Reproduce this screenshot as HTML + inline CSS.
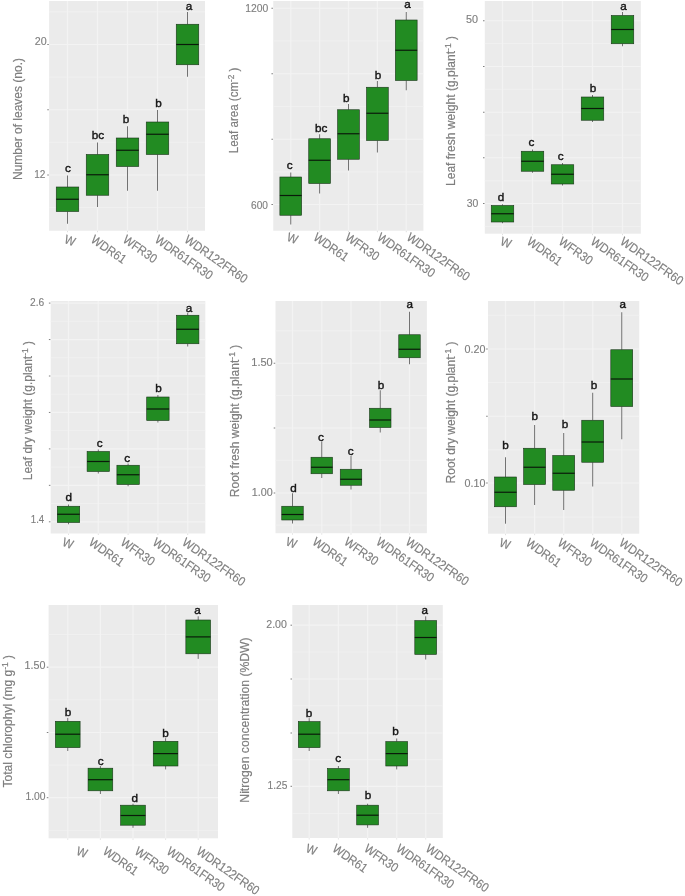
<!DOCTYPE html>
<html><head><meta charset="utf-8"><title>chart</title>
<style>
html,body{margin:0;padding:0;background:#fff;}
svg{display:block;transform:translateZ(0);will-change:transform;font-family:"Liberation Sans",sans-serif;}
.tk{fill:#7e7e7e;font-size:11.5px;stroke:#808080;stroke-width:0.15px;}
.xl{fill:#7e7e7e;font-size:12.6px;stroke:#808080;stroke-width:0.15px;}
.yt{fill:#7e7e7e;font-size:12px;stroke:#808080;stroke-width:0.2px;}
.lt{fill:#151515;font-size:11.7px;stroke:#151515;stroke-width:0.4px;}
</style></head><body>
<svg width="685" height="896" viewBox="0 0 685 896">
<rect x="0" y="0" width="685" height="896" fill="#ffffff"/>
<g>
<rect x="49.10" y="1.00" width="155.90" height="229.75" fill="#EBEBEB"/>
<line x1="49.10" x2="205.00" y1="11.88" y2="11.88" stroke="#f1f1f1" stroke-width="0.8"/>
<line x1="49.10" x2="205.00" y1="77.12" y2="77.12" stroke="#f1f1f1" stroke-width="0.8"/>
<line x1="49.10" x2="205.00" y1="142.38" y2="142.38" stroke="#f1f1f1" stroke-width="0.8"/>
<line x1="49.10" x2="205.00" y1="207.62" y2="207.62" stroke="#f1f1f1" stroke-width="0.8"/>
<line x1="49.10" x2="205.00" y1="44.50" y2="44.50" stroke="#f3f3f3" stroke-width="1.2"/>
<line x1="47.30" x2="48.80" y1="44.50" y2="44.50" stroke="#707070" stroke-width="0.9"/>
<line x1="49.10" x2="205.00" y1="109.75" y2="109.75" stroke="#f3f3f3" stroke-width="1.2"/>
<line x1="47.30" x2="48.80" y1="109.75" y2="109.75" stroke="#707070" stroke-width="0.9"/>
<line x1="49.10" x2="205.00" y1="175.00" y2="175.00" stroke="#f3f3f3" stroke-width="1.2"/>
<line x1="47.30" x2="48.80" y1="175.00" y2="175.00" stroke="#707070" stroke-width="0.9"/>
<line x1="67.50" x2="67.50" y1="1.00" y2="230.75" stroke="#f3f3f3" stroke-width="1.2"/>
<line x1="67.50" x2="67.50" y1="230.95" y2="232.25" stroke="#d4d4d4" stroke-width="0.7"/>
<line x1="97.50" x2="97.50" y1="1.00" y2="230.75" stroke="#f3f3f3" stroke-width="1.2"/>
<line x1="97.50" x2="97.50" y1="230.95" y2="232.25" stroke="#d4d4d4" stroke-width="0.7"/>
<line x1="127.50" x2="127.50" y1="1.00" y2="230.75" stroke="#f3f3f3" stroke-width="1.2"/>
<line x1="127.50" x2="127.50" y1="230.95" y2="232.25" stroke="#d4d4d4" stroke-width="0.7"/>
<line x1="157.50" x2="157.50" y1="1.00" y2="230.75" stroke="#f3f3f3" stroke-width="1.2"/>
<line x1="157.50" x2="157.50" y1="230.95" y2="232.25" stroke="#d4d4d4" stroke-width="0.7"/>
<line x1="187.50" x2="187.50" y1="1.00" y2="230.75" stroke="#f3f3f3" stroke-width="1.2"/>
<line x1="187.50" x2="187.50" y1="230.95" y2="232.25" stroke="#d4d4d4" stroke-width="0.7"/>
<line x1="67.50" x2="67.50" y1="175.50" y2="187.00" stroke="#3a3a3a" stroke-width="0.7"/>
<line x1="67.50" x2="67.50" y1="211.50" y2="223.75" stroke="#3a3a3a" stroke-width="0.7"/>
<rect x="56.25" y="187.00" width="22.50" height="24.50" fill="#228B22" stroke="#1a331a" stroke-width="0.6"/>
<line x1="56.25" x2="78.75" y1="199.25" y2="199.25" stroke="#0a1a0a" stroke-width="1.2"/>
<line x1="97.50" x2="97.50" y1="142.50" y2="154.50" stroke="#3a3a3a" stroke-width="0.7"/>
<line x1="97.50" x2="97.50" y1="195.25" y2="207.00" stroke="#3a3a3a" stroke-width="0.7"/>
<rect x="86.25" y="154.50" width="22.50" height="40.75" fill="#228B22" stroke="#1a331a" stroke-width="0.6"/>
<line x1="86.25" x2="108.75" y1="174.75" y2="174.75" stroke="#0a1a0a" stroke-width="1.2"/>
<line x1="127.50" x2="127.50" y1="126.25" y2="138.00" stroke="#3a3a3a" stroke-width="0.7"/>
<line x1="127.50" x2="127.50" y1="166.50" y2="190.75" stroke="#3a3a3a" stroke-width="0.7"/>
<rect x="116.25" y="138.00" width="22.50" height="28.50" fill="#228B22" stroke="#1a331a" stroke-width="0.6"/>
<line x1="116.25" x2="138.75" y1="150.25" y2="150.25" stroke="#0a1a0a" stroke-width="1.2"/>
<line x1="157.50" x2="157.50" y1="110.00" y2="122.00" stroke="#3a3a3a" stroke-width="0.7"/>
<line x1="157.50" x2="157.50" y1="154.50" y2="190.75" stroke="#3a3a3a" stroke-width="0.7"/>
<rect x="146.25" y="122.00" width="22.50" height="32.50" fill="#228B22" stroke="#1a331a" stroke-width="0.6"/>
<line x1="146.25" x2="168.75" y1="134.25" y2="134.25" stroke="#0a1a0a" stroke-width="1.2"/>
<line x1="187.50" x2="187.50" y1="12.00" y2="24.25" stroke="#3a3a3a" stroke-width="0.7"/>
<line x1="187.50" x2="187.50" y1="64.75" y2="76.75" stroke="#3a3a3a" stroke-width="0.7"/>
<rect x="176.25" y="24.25" width="22.50" height="40.50" fill="#228B22" stroke="#1a331a" stroke-width="0.6"/>
<line x1="176.25" x2="198.75" y1="44.50" y2="44.50" stroke="#0a1a0a" stroke-width="1.2"/>
<text class="lt" x="68.00" y="172.25" text-anchor="middle">c</text>
<text class="lt" x="98.00" y="138.75" text-anchor="middle">bc</text>
<text class="lt" x="126.00" y="123.25" text-anchor="middle">b</text>
<text class="lt" x="158.60" y="107.25" text-anchor="middle">b</text>
<text class="lt" x="189.10" y="10.35" text-anchor="middle">a</text>
<text class="tk" x="34.80" y="45.10" textLength="11.9" lengthAdjust="spacingAndGlyphs">20</text>
<text class="tk" x="34.20" y="177.80" textLength="11.2" lengthAdjust="spacingAndGlyphs">12</text>
<text class="xl" transform="translate(63.60,242.80) rotate(20) scale(0.9,1)" x="0" y="0">W</text>
<text class="xl" transform="translate(90.10,241.50) rotate(35.0) scale(0.9,1)" x="0" y="0">WDR61</text>
<text class="xl" transform="translate(121.90,241.50) rotate(35.0) scale(0.9,1)" x="0" y="0">WFR30</text>
<text class="xl" transform="translate(153.90,241.50) rotate(35.0) scale(0.9,1)" x="0" y="0">WDR61FR30</text>
<text class="xl" transform="translate(183.50,241.50) rotate(35.0) scale(0.9,1)" x="0" y="0">WDR122FR60</text>
<text class="yt" transform="translate(18.75,119.00) rotate(-90)" x="-61.00" y="3.6" textLength="122.0" lengthAdjust="spacingAndGlyphs">Number of leaves (no.)</text>
</g>
<g>
<rect x="273.25" y="1.00" width="150.15" height="229.75" fill="#EBEBEB"/>
<line x1="273.25" x2="423.40" y1="41.00" y2="41.00" stroke="#f1f1f1" stroke-width="0.8"/>
<line x1="273.25" x2="423.40" y1="106.50" y2="106.50" stroke="#f1f1f1" stroke-width="0.8"/>
<line x1="273.25" x2="423.40" y1="172.00" y2="172.00" stroke="#f1f1f1" stroke-width="0.8"/>
<line x1="273.25" x2="423.40" y1="8.25" y2="8.25" stroke="#f3f3f3" stroke-width="1.2"/>
<line x1="271.45" x2="272.95" y1="8.25" y2="8.25" stroke="#707070" stroke-width="0.9"/>
<line x1="273.25" x2="423.40" y1="73.75" y2="73.75" stroke="#f3f3f3" stroke-width="1.2"/>
<line x1="271.45" x2="272.95" y1="73.75" y2="73.75" stroke="#707070" stroke-width="0.9"/>
<line x1="273.25" x2="423.40" y1="139.25" y2="139.25" stroke="#f3f3f3" stroke-width="1.2"/>
<line x1="271.45" x2="272.95" y1="139.25" y2="139.25" stroke="#707070" stroke-width="0.9"/>
<line x1="273.25" x2="423.40" y1="204.50" y2="204.50" stroke="#f3f3f3" stroke-width="1.2"/>
<line x1="271.45" x2="272.95" y1="204.50" y2="204.50" stroke="#707070" stroke-width="0.9"/>
<line x1="290.75" x2="290.75" y1="1.00" y2="230.75" stroke="#f3f3f3" stroke-width="1.2"/>
<line x1="290.75" x2="290.75" y1="230.95" y2="232.25" stroke="#d4d4d4" stroke-width="0.7"/>
<line x1="319.60" x2="319.60" y1="1.00" y2="230.75" stroke="#f3f3f3" stroke-width="1.2"/>
<line x1="319.60" x2="319.60" y1="230.95" y2="232.25" stroke="#d4d4d4" stroke-width="0.7"/>
<line x1="348.50" x2="348.50" y1="1.00" y2="230.75" stroke="#f3f3f3" stroke-width="1.2"/>
<line x1="348.50" x2="348.50" y1="230.95" y2="232.25" stroke="#d4d4d4" stroke-width="0.7"/>
<line x1="377.40" x2="377.40" y1="1.00" y2="230.75" stroke="#f3f3f3" stroke-width="1.2"/>
<line x1="377.40" x2="377.40" y1="230.95" y2="232.25" stroke="#d4d4d4" stroke-width="0.7"/>
<line x1="406.25" x2="406.25" y1="1.00" y2="230.75" stroke="#f3f3f3" stroke-width="1.2"/>
<line x1="406.25" x2="406.25" y1="230.95" y2="232.25" stroke="#d4d4d4" stroke-width="0.7"/>
<line x1="290.75" x2="290.75" y1="172.50" y2="177.00" stroke="#3a3a3a" stroke-width="0.7"/>
<line x1="290.75" x2="290.75" y1="215.25" y2="224.50" stroke="#3a3a3a" stroke-width="0.7"/>
<rect x="279.88" y="177.00" width="21.75" height="38.25" fill="#228B22" stroke="#1a331a" stroke-width="0.6"/>
<line x1="279.88" x2="301.62" y1="195.50" y2="195.50" stroke="#0a1a0a" stroke-width="1.2"/>
<line x1="319.60" x2="319.60" y1="134.25" y2="138.75" stroke="#3a3a3a" stroke-width="0.7"/>
<line x1="319.60" x2="319.60" y1="183.50" y2="193.50" stroke="#3a3a3a" stroke-width="0.7"/>
<rect x="308.73" y="138.75" width="21.75" height="44.75" fill="#228B22" stroke="#1a331a" stroke-width="0.6"/>
<line x1="308.73" x2="330.48" y1="160.25" y2="160.25" stroke="#0a1a0a" stroke-width="1.2"/>
<line x1="348.50" x2="348.50" y1="104.00" y2="109.75" stroke="#3a3a3a" stroke-width="0.7"/>
<line x1="348.50" x2="348.50" y1="159.25" y2="170.50" stroke="#3a3a3a" stroke-width="0.7"/>
<rect x="337.62" y="109.75" width="21.75" height="49.50" fill="#228B22" stroke="#1a331a" stroke-width="0.6"/>
<line x1="337.62" x2="359.38" y1="133.75" y2="133.75" stroke="#0a1a0a" stroke-width="1.2"/>
<line x1="377.40" x2="377.40" y1="81.00" y2="87.25" stroke="#3a3a3a" stroke-width="0.7"/>
<line x1="377.40" x2="377.40" y1="140.50" y2="152.50" stroke="#3a3a3a" stroke-width="0.7"/>
<rect x="366.52" y="87.25" width="21.75" height="53.25" fill="#228B22" stroke="#1a331a" stroke-width="0.6"/>
<line x1="366.52" x2="388.27" y1="113.25" y2="113.25" stroke="#0a1a0a" stroke-width="1.2"/>
<line x1="406.25" x2="406.25" y1="12.00" y2="20.00" stroke="#3a3a3a" stroke-width="0.7"/>
<line x1="406.25" x2="406.25" y1="80.50" y2="90.25" stroke="#3a3a3a" stroke-width="0.7"/>
<rect x="395.38" y="20.00" width="21.75" height="60.50" fill="#228B22" stroke="#1a331a" stroke-width="0.6"/>
<line x1="395.38" x2="417.12" y1="50.25" y2="50.25" stroke="#0a1a0a" stroke-width="1.2"/>
<text class="lt" x="289.75" y="169.25" text-anchor="middle">c</text>
<text class="lt" x="321.25" y="132.25" text-anchor="middle">bc</text>
<text class="lt" x="346.25" y="102.25" text-anchor="middle">b</text>
<text class="lt" x="377.90" y="79.25" text-anchor="middle">b</text>
<text class="lt" x="407.50" y="8.00" text-anchor="middle">a</text>
<text class="tk" x="245.20" y="12.10" textLength="23.0" lengthAdjust="spacingAndGlyphs">1200</text>
<text class="tk" x="251.00" y="208.80" textLength="16.9" lengthAdjust="spacingAndGlyphs">600</text>
<text class="xl" transform="translate(285.90,240.50) rotate(20) scale(0.9,1)" x="0" y="0">W</text>
<text class="xl" transform="translate(312.40,239.20) rotate(35.0) scale(0.9,1)" x="0" y="0">WDR61</text>
<text class="xl" transform="translate(344.20,239.20) rotate(35.0) scale(0.9,1)" x="0" y="0">WFR30</text>
<text class="xl" transform="translate(376.20,239.20) rotate(35.0) scale(0.9,1)" x="0" y="0">WDR61FR30</text>
<text class="xl" transform="translate(405.80,239.20) rotate(35.0) scale(0.9,1)" x="0" y="0">WDR122FR60</text>
<text class="yt" transform="translate(234.40,110.40) rotate(-90)" x="-42.85" y="3.6" textLength="85.7" lengthAdjust="spacingAndGlyphs">Leaf area (cm<tspan dy="-4" font-size="8.5px">-2</tspan><tspan dy="4"> )</tspan></text>
</g>
<g>
<rect x="484.80" y="1.00" width="156.05" height="232.70" fill="#EBEBEB"/>
<line x1="484.80" x2="640.85" y1="43.62" y2="43.62" stroke="#f1f1f1" stroke-width="0.8"/>
<line x1="484.80" x2="640.85" y1="89.38" y2="89.38" stroke="#f1f1f1" stroke-width="0.8"/>
<line x1="484.80" x2="640.85" y1="135.12" y2="135.12" stroke="#f1f1f1" stroke-width="0.8"/>
<line x1="484.80" x2="640.85" y1="180.88" y2="180.88" stroke="#f1f1f1" stroke-width="0.8"/>
<line x1="484.80" x2="640.85" y1="226.62" y2="226.62" stroke="#f1f1f1" stroke-width="0.8"/>
<line x1="484.80" x2="640.85" y1="20.75" y2="20.75" stroke="#f3f3f3" stroke-width="1.2"/>
<line x1="483.00" x2="484.50" y1="20.75" y2="20.75" stroke="#707070" stroke-width="0.9"/>
<line x1="484.80" x2="640.85" y1="66.50" y2="66.50" stroke="#f3f3f3" stroke-width="1.2"/>
<line x1="483.00" x2="484.50" y1="66.50" y2="66.50" stroke="#707070" stroke-width="0.9"/>
<line x1="484.80" x2="640.85" y1="112.25" y2="112.25" stroke="#f3f3f3" stroke-width="1.2"/>
<line x1="483.00" x2="484.50" y1="112.25" y2="112.25" stroke="#707070" stroke-width="0.9"/>
<line x1="484.80" x2="640.85" y1="157.75" y2="157.75" stroke="#f3f3f3" stroke-width="1.2"/>
<line x1="483.00" x2="484.50" y1="157.75" y2="157.75" stroke="#707070" stroke-width="0.9"/>
<line x1="484.80" x2="640.85" y1="203.50" y2="203.50" stroke="#f3f3f3" stroke-width="1.2"/>
<line x1="483.00" x2="484.50" y1="203.50" y2="203.50" stroke="#707070" stroke-width="0.9"/>
<line x1="502.50" x2="502.50" y1="1.00" y2="233.70" stroke="#f3f3f3" stroke-width="1.2"/>
<line x1="502.50" x2="502.50" y1="233.90" y2="235.20" stroke="#d4d4d4" stroke-width="0.7"/>
<line x1="532.50" x2="532.50" y1="1.00" y2="233.70" stroke="#f3f3f3" stroke-width="1.2"/>
<line x1="532.50" x2="532.50" y1="233.90" y2="235.20" stroke="#d4d4d4" stroke-width="0.7"/>
<line x1="562.50" x2="562.50" y1="1.00" y2="233.70" stroke="#f3f3f3" stroke-width="1.2"/>
<line x1="562.50" x2="562.50" y1="233.90" y2="235.20" stroke="#d4d4d4" stroke-width="0.7"/>
<line x1="592.50" x2="592.50" y1="1.00" y2="233.70" stroke="#f3f3f3" stroke-width="1.2"/>
<line x1="592.50" x2="592.50" y1="233.90" y2="235.20" stroke="#d4d4d4" stroke-width="0.7"/>
<line x1="622.50" x2="622.50" y1="1.00" y2="233.70" stroke="#f3f3f3" stroke-width="1.2"/>
<line x1="622.50" x2="622.50" y1="233.90" y2="235.20" stroke="#d4d4d4" stroke-width="0.7"/>
<line x1="502.50" x2="502.50" y1="204.25" y2="205.50" stroke="#3a3a3a" stroke-width="0.7"/>
<line x1="502.50" x2="502.50" y1="222.00" y2="223.25" stroke="#3a3a3a" stroke-width="0.7"/>
<rect x="491.25" y="205.50" width="22.50" height="16.50" fill="#228B22" stroke="#1a331a" stroke-width="0.6"/>
<line x1="491.25" x2="513.75" y1="213.75" y2="213.75" stroke="#0a1a0a" stroke-width="1.2"/>
<line x1="532.50" x2="532.50" y1="149.50" y2="151.25" stroke="#3a3a3a" stroke-width="0.7"/>
<line x1="532.50" x2="532.50" y1="171.25" y2="172.75" stroke="#3a3a3a" stroke-width="0.7"/>
<rect x="521.25" y="151.25" width="22.50" height="20.00" fill="#228B22" stroke="#1a331a" stroke-width="0.6"/>
<line x1="521.25" x2="543.75" y1="161.25" y2="161.25" stroke="#0a1a0a" stroke-width="1.2"/>
<line x1="562.50" x2="562.50" y1="163.00" y2="164.75" stroke="#3a3a3a" stroke-width="0.7"/>
<line x1="562.50" x2="562.50" y1="184.00" y2="185.50" stroke="#3a3a3a" stroke-width="0.7"/>
<rect x="551.25" y="164.75" width="22.50" height="19.25" fill="#228B22" stroke="#1a331a" stroke-width="0.6"/>
<line x1="551.25" x2="573.75" y1="174.25" y2="174.25" stroke="#0a1a0a" stroke-width="1.2"/>
<line x1="592.50" x2="592.50" y1="95.00" y2="97.00" stroke="#3a3a3a" stroke-width="0.7"/>
<line x1="592.50" x2="592.50" y1="120.25" y2="122.00" stroke="#3a3a3a" stroke-width="0.7"/>
<rect x="581.25" y="97.00" width="22.50" height="23.25" fill="#228B22" stroke="#1a331a" stroke-width="0.6"/>
<line x1="581.25" x2="603.75" y1="108.50" y2="108.50" stroke="#0a1a0a" stroke-width="1.2"/>
<line x1="622.50" x2="622.50" y1="12.00" y2="15.50" stroke="#3a3a3a" stroke-width="0.7"/>
<line x1="622.50" x2="622.50" y1="43.75" y2="46.25" stroke="#3a3a3a" stroke-width="0.7"/>
<rect x="611.25" y="15.50" width="22.50" height="28.25" fill="#228B22" stroke="#1a331a" stroke-width="0.6"/>
<line x1="611.25" x2="633.75" y1="29.50" y2="29.50" stroke="#0a1a0a" stroke-width="1.2"/>
<text class="lt" x="501.10" y="200.50" text-anchor="middle">d</text>
<text class="lt" x="531.50" y="146.00" text-anchor="middle">c</text>
<text class="lt" x="560.75" y="160.25" text-anchor="middle">c</text>
<text class="lt" x="593.10" y="91.75" text-anchor="middle">b</text>
<text class="lt" x="623.60" y="9.75" text-anchor="middle">a</text>
<text class="tk" x="466.00" y="23.30" textLength="12.0" lengthAdjust="spacingAndGlyphs">50</text>
<text class="tk" x="466.70" y="207.40" textLength="11.6" lengthAdjust="spacingAndGlyphs">30</text>
<text class="xl" transform="translate(499.40,244.70) rotate(20) scale(0.9,1)" x="0" y="0">W</text>
<text class="xl" transform="translate(525.90,243.40) rotate(35.0) scale(0.9,1)" x="0" y="0">WDR61</text>
<text class="xl" transform="translate(557.70,243.40) rotate(35.0) scale(0.9,1)" x="0" y="0">WFR30</text>
<text class="xl" transform="translate(589.70,243.40) rotate(35.0) scale(0.9,1)" x="0" y="0">WDR61FR30</text>
<text class="xl" transform="translate(619.30,243.40) rotate(35.0) scale(0.9,1)" x="0" y="0">WDR122FR60</text>
<text class="yt" transform="translate(451.60,111.00) rotate(-90)" x="-75.00" y="3.6" textLength="150.0" lengthAdjust="spacingAndGlyphs">Leaf fresh weight (g.plant<tspan dy="-4" font-size="8.5px">-1</tspan><tspan dy="4"> )</tspan></text>
</g>
<g>
<rect x="50.70" y="301.00" width="154.60" height="232.50" fill="#EBEBEB"/>
<line x1="50.70" x2="205.30" y1="321.33" y2="321.33" stroke="#f1f1f1" stroke-width="0.8"/>
<line x1="50.70" x2="205.30" y1="357.78" y2="357.78" stroke="#f1f1f1" stroke-width="0.8"/>
<line x1="50.70" x2="205.30" y1="394.23" y2="394.23" stroke="#f1f1f1" stroke-width="0.8"/>
<line x1="50.70" x2="205.30" y1="430.68" y2="430.68" stroke="#f1f1f1" stroke-width="0.8"/>
<line x1="50.70" x2="205.30" y1="467.12" y2="467.12" stroke="#f1f1f1" stroke-width="0.8"/>
<line x1="50.70" x2="205.30" y1="503.57" y2="503.57" stroke="#f1f1f1" stroke-width="0.8"/>
<line x1="50.70" x2="205.30" y1="303.10" y2="303.10" stroke="#f3f3f3" stroke-width="1.2"/>
<line x1="48.90" x2="50.40" y1="303.10" y2="303.10" stroke="#707070" stroke-width="0.9"/>
<line x1="50.70" x2="205.30" y1="339.55" y2="339.55" stroke="#f3f3f3" stroke-width="1.2"/>
<line x1="48.90" x2="50.40" y1="339.55" y2="339.55" stroke="#707070" stroke-width="0.9"/>
<line x1="50.70" x2="205.30" y1="376.00" y2="376.00" stroke="#f3f3f3" stroke-width="1.2"/>
<line x1="48.90" x2="50.40" y1="376.00" y2="376.00" stroke="#707070" stroke-width="0.9"/>
<line x1="50.70" x2="205.30" y1="412.45" y2="412.45" stroke="#f3f3f3" stroke-width="1.2"/>
<line x1="48.90" x2="50.40" y1="412.45" y2="412.45" stroke="#707070" stroke-width="0.9"/>
<line x1="50.70" x2="205.30" y1="448.90" y2="448.90" stroke="#f3f3f3" stroke-width="1.2"/>
<line x1="48.90" x2="50.40" y1="448.90" y2="448.90" stroke="#707070" stroke-width="0.9"/>
<line x1="50.70" x2="205.30" y1="485.35" y2="485.35" stroke="#f3f3f3" stroke-width="1.2"/>
<line x1="48.90" x2="50.40" y1="485.35" y2="485.35" stroke="#707070" stroke-width="0.9"/>
<line x1="50.70" x2="205.30" y1="521.80" y2="521.80" stroke="#f3f3f3" stroke-width="1.2"/>
<line x1="48.90" x2="50.40" y1="521.80" y2="521.80" stroke="#707070" stroke-width="0.9"/>
<line x1="68.50" x2="68.50" y1="301.00" y2="533.50" stroke="#f3f3f3" stroke-width="1.2"/>
<line x1="68.50" x2="68.50" y1="533.70" y2="535.00" stroke="#d4d4d4" stroke-width="0.7"/>
<line x1="98.30" x2="98.30" y1="301.00" y2="533.50" stroke="#f3f3f3" stroke-width="1.2"/>
<line x1="98.30" x2="98.30" y1="533.70" y2="535.00" stroke="#d4d4d4" stroke-width="0.7"/>
<line x1="128.10" x2="128.10" y1="301.00" y2="533.50" stroke="#f3f3f3" stroke-width="1.2"/>
<line x1="128.10" x2="128.10" y1="533.70" y2="535.00" stroke="#d4d4d4" stroke-width="0.7"/>
<line x1="157.90" x2="157.90" y1="301.00" y2="533.50" stroke="#f3f3f3" stroke-width="1.2"/>
<line x1="157.90" x2="157.90" y1="533.70" y2="535.00" stroke="#d4d4d4" stroke-width="0.7"/>
<line x1="187.70" x2="187.70" y1="301.00" y2="533.50" stroke="#f3f3f3" stroke-width="1.2"/>
<line x1="187.70" x2="187.70" y1="533.70" y2="535.00" stroke="#d4d4d4" stroke-width="0.7"/>
<line x1="68.50" x2="68.50" y1="504.50" y2="506.25" stroke="#3a3a3a" stroke-width="0.7"/>
<line x1="68.50" x2="68.50" y1="522.50" y2="524.25" stroke="#3a3a3a" stroke-width="0.7"/>
<rect x="57.30" y="506.25" width="22.40" height="16.25" fill="#228B22" stroke="#1a331a" stroke-width="0.6"/>
<line x1="57.30" x2="79.70" y1="514.25" y2="514.25" stroke="#0a1a0a" stroke-width="1.2"/>
<line x1="98.30" x2="98.30" y1="449.50" y2="451.50" stroke="#3a3a3a" stroke-width="0.7"/>
<line x1="98.30" x2="98.30" y1="471.50" y2="473.50" stroke="#3a3a3a" stroke-width="0.7"/>
<rect x="87.10" y="451.50" width="22.40" height="20.00" fill="#228B22" stroke="#1a331a" stroke-width="0.6"/>
<line x1="87.10" x2="109.50" y1="461.50" y2="461.50" stroke="#0a1a0a" stroke-width="1.2"/>
<line x1="128.10" x2="128.10" y1="463.50" y2="465.25" stroke="#3a3a3a" stroke-width="0.7"/>
<line x1="128.10" x2="128.10" y1="484.50" y2="486.25" stroke="#3a3a3a" stroke-width="0.7"/>
<rect x="116.90" y="465.25" width="22.40" height="19.25" fill="#228B22" stroke="#1a331a" stroke-width="0.6"/>
<line x1="116.90" x2="139.30" y1="474.75" y2="474.75" stroke="#0a1a0a" stroke-width="1.2"/>
<line x1="157.90" x2="157.90" y1="395.00" y2="397.00" stroke="#3a3a3a" stroke-width="0.7"/>
<line x1="157.90" x2="157.90" y1="420.50" y2="422.50" stroke="#3a3a3a" stroke-width="0.7"/>
<rect x="146.70" y="397.00" width="22.40" height="23.50" fill="#228B22" stroke="#1a331a" stroke-width="0.6"/>
<line x1="146.70" x2="169.10" y1="409.00" y2="409.00" stroke="#0a1a0a" stroke-width="1.2"/>
<line x1="187.70" x2="187.70" y1="313.00" y2="315.25" stroke="#3a3a3a" stroke-width="0.7"/>
<line x1="187.70" x2="187.70" y1="343.75" y2="346.50" stroke="#3a3a3a" stroke-width="0.7"/>
<rect x="176.50" y="315.25" width="22.40" height="28.50" fill="#228B22" stroke="#1a331a" stroke-width="0.6"/>
<line x1="176.50" x2="198.90" y1="329.25" y2="329.25" stroke="#0a1a0a" stroke-width="1.2"/>
<text class="lt" x="68.75" y="500.75" text-anchor="middle">d</text>
<text class="lt" x="99.75" y="446.50" text-anchor="middle">c</text>
<text class="lt" x="127.25" y="461.50" text-anchor="middle">c</text>
<text class="lt" x="158.50" y="392.00" text-anchor="middle">b</text>
<text class="lt" x="189.10" y="312.00" text-anchor="middle">a</text>
<text class="tk" x="30.00" y="305.80" textLength="14.2" lengthAdjust="spacingAndGlyphs">2.6</text>
<text class="tk" x="30.80" y="523.20" textLength="13.4" lengthAdjust="spacingAndGlyphs">1.4</text>
<text class="xl" transform="translate(61.40,545.60) rotate(20) scale(0.9,1)" x="0" y="0">W</text>
<text class="xl" transform="translate(87.90,544.30) rotate(35.0) scale(0.9,1)" x="0" y="0">WDR61</text>
<text class="xl" transform="translate(119.70,544.30) rotate(35.0) scale(0.9,1)" x="0" y="0">WFR30</text>
<text class="xl" transform="translate(151.70,544.30) rotate(35.0) scale(0.9,1)" x="0" y="0">WDR61FR30</text>
<text class="xl" transform="translate(181.30,544.30) rotate(35.0) scale(0.9,1)" x="0" y="0">WDR122FR60</text>
<text class="yt" transform="translate(28.10,410.60) rotate(-90)" x="-69.65" y="3.6" textLength="139.3" lengthAdjust="spacingAndGlyphs">Leaf dry weight (g.plant<tspan dy="-4" font-size="8.5px">-1</tspan><tspan dy="4"> )</tspan></text>
</g>
<g>
<rect x="275.50" y="301.00" width="151.40" height="232.20" fill="#EBEBEB"/>
<line x1="275.50" x2="426.90" y1="330.88" y2="330.88" stroke="#f1f1f1" stroke-width="0.8"/>
<line x1="275.50" x2="426.90" y1="395.62" y2="395.62" stroke="#f1f1f1" stroke-width="0.8"/>
<line x1="275.50" x2="426.90" y1="460.38" y2="460.38" stroke="#f1f1f1" stroke-width="0.8"/>
<line x1="275.50" x2="426.90" y1="525.12" y2="525.12" stroke="#f1f1f1" stroke-width="0.8"/>
<line x1="275.50" x2="426.90" y1="363.25" y2="363.25" stroke="#f3f3f3" stroke-width="1.2"/>
<line x1="273.70" x2="275.20" y1="363.25" y2="363.25" stroke="#707070" stroke-width="0.9"/>
<line x1="275.50" x2="426.90" y1="428.00" y2="428.00" stroke="#f3f3f3" stroke-width="1.2"/>
<line x1="273.70" x2="275.20" y1="428.00" y2="428.00" stroke="#707070" stroke-width="0.9"/>
<line x1="275.50" x2="426.90" y1="493.00" y2="493.00" stroke="#f3f3f3" stroke-width="1.2"/>
<line x1="273.70" x2="275.20" y1="493.00" y2="493.00" stroke="#707070" stroke-width="0.9"/>
<line x1="292.50" x2="292.50" y1="301.00" y2="533.20" stroke="#f3f3f3" stroke-width="1.2"/>
<line x1="292.50" x2="292.50" y1="533.40" y2="534.70" stroke="#d4d4d4" stroke-width="0.7"/>
<line x1="321.75" x2="321.75" y1="301.00" y2="533.20" stroke="#f3f3f3" stroke-width="1.2"/>
<line x1="321.75" x2="321.75" y1="533.40" y2="534.70" stroke="#d4d4d4" stroke-width="0.7"/>
<line x1="351.00" x2="351.00" y1="301.00" y2="533.20" stroke="#f3f3f3" stroke-width="1.2"/>
<line x1="351.00" x2="351.00" y1="533.40" y2="534.70" stroke="#d4d4d4" stroke-width="0.7"/>
<line x1="380.25" x2="380.25" y1="301.00" y2="533.20" stroke="#f3f3f3" stroke-width="1.2"/>
<line x1="380.25" x2="380.25" y1="533.40" y2="534.70" stroke="#d4d4d4" stroke-width="0.7"/>
<line x1="409.50" x2="409.50" y1="301.00" y2="533.20" stroke="#f3f3f3" stroke-width="1.2"/>
<line x1="409.50" x2="409.50" y1="533.40" y2="534.70" stroke="#d4d4d4" stroke-width="0.7"/>
<line x1="292.50" x2="292.50" y1="493.25" y2="506.25" stroke="#3a3a3a" stroke-width="0.7"/>
<line x1="292.50" x2="292.50" y1="520.00" y2="523.50" stroke="#3a3a3a" stroke-width="0.7"/>
<rect x="281.75" y="506.25" width="21.50" height="13.75" fill="#228B22" stroke="#1a331a" stroke-width="0.6"/>
<line x1="281.75" x2="303.25" y1="514.50" y2="514.50" stroke="#0a1a0a" stroke-width="1.2"/>
<line x1="321.75" x2="321.75" y1="441.75" y2="457.25" stroke="#3a3a3a" stroke-width="0.7"/>
<line x1="321.75" x2="321.75" y1="473.75" y2="478.00" stroke="#3a3a3a" stroke-width="0.7"/>
<rect x="311.00" y="457.25" width="21.50" height="16.50" fill="#228B22" stroke="#1a331a" stroke-width="0.6"/>
<line x1="311.00" x2="332.50" y1="467.25" y2="467.25" stroke="#0a1a0a" stroke-width="1.2"/>
<line x1="351.00" x2="351.00" y1="456.00" y2="469.25" stroke="#3a3a3a" stroke-width="0.7"/>
<line x1="351.00" x2="351.00" y1="485.25" y2="489.50" stroke="#3a3a3a" stroke-width="0.7"/>
<rect x="340.25" y="469.25" width="21.50" height="16.00" fill="#228B22" stroke="#1a331a" stroke-width="0.6"/>
<line x1="340.25" x2="361.75" y1="479.25" y2="479.25" stroke="#0a1a0a" stroke-width="1.2"/>
<line x1="380.25" x2="380.25" y1="390.25" y2="408.25" stroke="#3a3a3a" stroke-width="0.7"/>
<line x1="380.25" x2="380.25" y1="427.50" y2="432.50" stroke="#3a3a3a" stroke-width="0.7"/>
<rect x="369.50" y="408.25" width="21.50" height="19.25" fill="#228B22" stroke="#1a331a" stroke-width="0.6"/>
<line x1="369.50" x2="391.00" y1="420.00" y2="420.00" stroke="#0a1a0a" stroke-width="1.2"/>
<line x1="409.50" x2="409.50" y1="311.75" y2="334.75" stroke="#3a3a3a" stroke-width="0.7"/>
<line x1="409.50" x2="409.50" y1="357.75" y2="364.25" stroke="#3a3a3a" stroke-width="0.7"/>
<rect x="398.75" y="334.75" width="21.50" height="23.00" fill="#228B22" stroke="#1a331a" stroke-width="0.6"/>
<line x1="398.75" x2="420.25" y1="349.25" y2="349.25" stroke="#0a1a0a" stroke-width="1.2"/>
<text class="lt" x="293.40" y="492.00" text-anchor="middle">d</text>
<text class="lt" x="320.90" y="441.25" text-anchor="middle">c</text>
<text class="lt" x="350.75" y="455.00" text-anchor="middle">c</text>
<text class="lt" x="381.00" y="388.75" text-anchor="middle">b</text>
<text class="lt" x="409.75" y="307.75" text-anchor="middle">a</text>
<text class="tk" x="251.30" y="366.10" textLength="21.4" lengthAdjust="spacingAndGlyphs">1.50</text>
<text class="tk" x="251.80" y="496.40" textLength="20.9" lengthAdjust="spacingAndGlyphs">1.00</text>
<text class="xl" transform="translate(284.90,545.10) rotate(20) scale(0.9,1)" x="0" y="0">W</text>
<text class="xl" transform="translate(311.40,543.80) rotate(35.0) scale(0.9,1)" x="0" y="0">WDR61</text>
<text class="xl" transform="translate(343.20,543.80) rotate(35.0) scale(0.9,1)" x="0" y="0">WFR30</text>
<text class="xl" transform="translate(375.20,543.80) rotate(35.0) scale(0.9,1)" x="0" y="0">WDR61FR30</text>
<text class="xl" transform="translate(404.80,543.80) rotate(35.0) scale(0.9,1)" x="0" y="0">WDR122FR60</text>
<text class="yt" transform="translate(235.20,421.00) rotate(-90)" x="-76.30" y="3.6" textLength="152.6" lengthAdjust="spacingAndGlyphs">Root fresh weight (g.plant<tspan dy="-4" font-size="8.5px">-1</tspan><tspan dy="4"> )</tspan></text>
</g>
<g>
<rect x="488.00" y="301.00" width="151.25" height="232.70" fill="#EBEBEB"/>
<line x1="488.00" x2="639.25" y1="315.38" y2="315.38" stroke="#f1f1f1" stroke-width="0.8"/>
<line x1="488.00" x2="639.25" y1="382.62" y2="382.62" stroke="#f1f1f1" stroke-width="0.8"/>
<line x1="488.00" x2="639.25" y1="449.88" y2="449.88" stroke="#f1f1f1" stroke-width="0.8"/>
<line x1="488.00" x2="639.25" y1="517.12" y2="517.12" stroke="#f1f1f1" stroke-width="0.8"/>
<line x1="488.00" x2="639.25" y1="349.00" y2="349.00" stroke="#f3f3f3" stroke-width="1.2"/>
<line x1="486.20" x2="487.70" y1="349.00" y2="349.00" stroke="#707070" stroke-width="0.9"/>
<line x1="488.00" x2="639.25" y1="416.25" y2="416.25" stroke="#f3f3f3" stroke-width="1.2"/>
<line x1="486.20" x2="487.70" y1="416.25" y2="416.25" stroke="#707070" stroke-width="0.9"/>
<line x1="488.00" x2="639.25" y1="483.00" y2="483.00" stroke="#f3f3f3" stroke-width="1.2"/>
<line x1="486.20" x2="487.70" y1="483.00" y2="483.00" stroke="#707070" stroke-width="0.9"/>
<line x1="505.50" x2="505.50" y1="301.00" y2="533.70" stroke="#f3f3f3" stroke-width="1.2"/>
<line x1="505.50" x2="505.50" y1="533.90" y2="535.20" stroke="#d4d4d4" stroke-width="0.7"/>
<line x1="534.60" x2="534.60" y1="301.00" y2="533.70" stroke="#f3f3f3" stroke-width="1.2"/>
<line x1="534.60" x2="534.60" y1="533.90" y2="535.20" stroke="#d4d4d4" stroke-width="0.7"/>
<line x1="563.70" x2="563.70" y1="301.00" y2="533.70" stroke="#f3f3f3" stroke-width="1.2"/>
<line x1="563.70" x2="563.70" y1="533.90" y2="535.20" stroke="#d4d4d4" stroke-width="0.7"/>
<line x1="592.70" x2="592.70" y1="301.00" y2="533.70" stroke="#f3f3f3" stroke-width="1.2"/>
<line x1="592.70" x2="592.70" y1="533.90" y2="535.20" stroke="#d4d4d4" stroke-width="0.7"/>
<line x1="621.75" x2="621.75" y1="301.00" y2="533.70" stroke="#f3f3f3" stroke-width="1.2"/>
<line x1="621.75" x2="621.75" y1="533.90" y2="535.20" stroke="#d4d4d4" stroke-width="0.7"/>
<line x1="505.50" x2="505.50" y1="457.25" y2="477.00" stroke="#3a3a3a" stroke-width="0.7"/>
<line x1="505.50" x2="505.50" y1="506.75" y2="523.70" stroke="#3a3a3a" stroke-width="0.7"/>
<rect x="494.55" y="477.00" width="21.90" height="29.75" fill="#228B22" stroke="#1a331a" stroke-width="0.6"/>
<line x1="494.55" x2="516.45" y1="492.25" y2="492.25" stroke="#0a1a0a" stroke-width="1.2"/>
<line x1="534.60" x2="534.60" y1="425.00" y2="448.25" stroke="#3a3a3a" stroke-width="0.7"/>
<line x1="534.60" x2="534.60" y1="484.50" y2="505.00" stroke="#3a3a3a" stroke-width="0.7"/>
<rect x="523.65" y="448.25" width="21.90" height="36.25" fill="#228B22" stroke="#1a331a" stroke-width="0.6"/>
<line x1="523.65" x2="545.55" y1="467.25" y2="467.25" stroke="#0a1a0a" stroke-width="1.2"/>
<line x1="563.70" x2="563.70" y1="433.00" y2="455.50" stroke="#3a3a3a" stroke-width="0.7"/>
<line x1="563.70" x2="563.70" y1="490.25" y2="510.00" stroke="#3a3a3a" stroke-width="0.7"/>
<rect x="552.75" y="455.50" width="21.90" height="34.75" fill="#228B22" stroke="#1a331a" stroke-width="0.6"/>
<line x1="552.75" x2="574.65" y1="473.25" y2="473.25" stroke="#0a1a0a" stroke-width="1.2"/>
<line x1="592.70" x2="592.70" y1="392.75" y2="420.25" stroke="#3a3a3a" stroke-width="0.7"/>
<line x1="592.70" x2="592.70" y1="462.25" y2="486.50" stroke="#3a3a3a" stroke-width="0.7"/>
<rect x="581.75" y="420.25" width="21.90" height="42.00" fill="#228B22" stroke="#1a331a" stroke-width="0.6"/>
<line x1="581.75" x2="603.65" y1="442.00" y2="442.00" stroke="#0a1a0a" stroke-width="1.2"/>
<line x1="621.75" x2="621.75" y1="312.25" y2="349.75" stroke="#3a3a3a" stroke-width="0.7"/>
<line x1="621.75" x2="621.75" y1="406.50" y2="439.25" stroke="#3a3a3a" stroke-width="0.7"/>
<rect x="610.80" y="349.75" width="21.90" height="56.75" fill="#228B22" stroke="#1a331a" stroke-width="0.6"/>
<line x1="610.80" x2="632.70" y1="379.00" y2="379.00" stroke="#0a1a0a" stroke-width="1.2"/>
<text class="lt" x="505.50" y="449.25" text-anchor="middle">b</text>
<text class="lt" x="534.75" y="420.25" text-anchor="middle">b</text>
<text class="lt" x="564.90" y="427.75" text-anchor="middle">b</text>
<text class="lt" x="593.90" y="388.75" text-anchor="middle">b</text>
<text class="lt" x="622.75" y="307.75" text-anchor="middle">a</text>
<text class="tk" x="464.60" y="352.70" textLength="20.9" lengthAdjust="spacingAndGlyphs">0.20</text>
<text class="tk" x="464.60" y="486.70" textLength="20.9" lengthAdjust="spacingAndGlyphs">0.10</text>
<text class="xl" transform="translate(498.40,546.10) rotate(20) scale(0.9,1)" x="0" y="0">W</text>
<text class="xl" transform="translate(524.90,544.80) rotate(35.0) scale(0.9,1)" x="0" y="0">WDR61</text>
<text class="xl" transform="translate(556.70,544.80) rotate(35.0) scale(0.9,1)" x="0" y="0">WFR30</text>
<text class="xl" transform="translate(588.70,544.80) rotate(35.0) scale(0.9,1)" x="0" y="0">WDR61FR30</text>
<text class="xl" transform="translate(618.30,544.80) rotate(35.0) scale(0.9,1)" x="0" y="0">WDR122FR60</text>
<text class="yt" transform="translate(451.40,412.50) rotate(-90)" x="-71.00" y="3.6" textLength="142.0" lengthAdjust="spacingAndGlyphs">Root dry weight (g.plant<tspan dy="-4" font-size="8.5px">-1</tspan><tspan dy="4"> )</tspan></text>
</g>
<g>
<rect x="48.60" y="605.00" width="169.40" height="233.30" fill="#EBEBEB"/>
<line x1="48.60" x2="218.00" y1="634.55" y2="634.55" stroke="#f1f1f1" stroke-width="0.8"/>
<line x1="48.60" x2="218.00" y1="699.85" y2="699.85" stroke="#f1f1f1" stroke-width="0.8"/>
<line x1="48.60" x2="218.00" y1="765.15" y2="765.15" stroke="#f1f1f1" stroke-width="0.8"/>
<line x1="48.60" x2="218.00" y1="830.45" y2="830.45" stroke="#f1f1f1" stroke-width="0.8"/>
<line x1="48.60" x2="218.00" y1="667.20" y2="667.20" stroke="#f3f3f3" stroke-width="1.2"/>
<line x1="46.80" x2="48.30" y1="667.20" y2="667.20" stroke="#707070" stroke-width="0.9"/>
<line x1="48.60" x2="218.00" y1="732.50" y2="732.50" stroke="#f3f3f3" stroke-width="1.2"/>
<line x1="46.80" x2="48.30" y1="732.50" y2="732.50" stroke="#707070" stroke-width="0.9"/>
<line x1="48.60" x2="218.00" y1="797.70" y2="797.70" stroke="#f3f3f3" stroke-width="1.2"/>
<line x1="46.80" x2="48.30" y1="797.70" y2="797.70" stroke="#707070" stroke-width="0.9"/>
<line x1="67.75" x2="67.75" y1="605.00" y2="838.30" stroke="#f3f3f3" stroke-width="1.2"/>
<line x1="67.75" x2="67.75" y1="838.50" y2="839.80" stroke="#d4d4d4" stroke-width="0.7"/>
<line x1="100.40" x2="100.40" y1="605.00" y2="838.30" stroke="#f3f3f3" stroke-width="1.2"/>
<line x1="100.40" x2="100.40" y1="838.50" y2="839.80" stroke="#d4d4d4" stroke-width="0.7"/>
<line x1="133.00" x2="133.00" y1="605.00" y2="838.30" stroke="#f3f3f3" stroke-width="1.2"/>
<line x1="133.00" x2="133.00" y1="838.50" y2="839.80" stroke="#d4d4d4" stroke-width="0.7"/>
<line x1="165.60" x2="165.60" y1="605.00" y2="838.30" stroke="#f3f3f3" stroke-width="1.2"/>
<line x1="165.60" x2="165.60" y1="838.50" y2="839.80" stroke="#d4d4d4" stroke-width="0.7"/>
<line x1="198.20" x2="198.20" y1="605.00" y2="838.30" stroke="#f3f3f3" stroke-width="1.2"/>
<line x1="198.20" x2="198.20" y1="838.50" y2="839.80" stroke="#d4d4d4" stroke-width="0.7"/>
<line x1="67.75" x2="67.75" y1="717.90" y2="721.30" stroke="#3a3a3a" stroke-width="0.7"/>
<line x1="67.75" x2="67.75" y1="747.60" y2="751.00" stroke="#3a3a3a" stroke-width="0.7"/>
<rect x="55.40" y="721.30" width="24.70" height="26.30" fill="#228B22" stroke="#1a331a" stroke-width="0.6"/>
<line x1="55.40" x2="80.10" y1="734.20" y2="734.20" stroke="#0a1a0a" stroke-width="1.2"/>
<line x1="100.40" x2="100.40" y1="766.00" y2="768.20" stroke="#3a3a3a" stroke-width="0.7"/>
<line x1="100.40" x2="100.40" y1="790.80" y2="794.00" stroke="#3a3a3a" stroke-width="0.7"/>
<rect x="88.05" y="768.20" width="24.70" height="22.60" fill="#228B22" stroke="#1a331a" stroke-width="0.6"/>
<line x1="88.05" x2="112.75" y1="779.70" y2="779.70" stroke="#0a1a0a" stroke-width="1.2"/>
<line x1="133.00" x2="133.00" y1="803.70" y2="805.20" stroke="#3a3a3a" stroke-width="0.7"/>
<line x1="133.00" x2="133.00" y1="825.20" y2="827.80" stroke="#3a3a3a" stroke-width="0.7"/>
<rect x="120.65" y="805.20" width="24.70" height="20.00" fill="#228B22" stroke="#1a331a" stroke-width="0.6"/>
<line x1="120.65" x2="145.35" y1="815.50" y2="815.50" stroke="#0a1a0a" stroke-width="1.2"/>
<line x1="165.60" x2="165.60" y1="738.20" y2="741.30" stroke="#3a3a3a" stroke-width="0.7"/>
<line x1="165.60" x2="165.60" y1="766.00" y2="769.40" stroke="#3a3a3a" stroke-width="0.7"/>
<rect x="153.25" y="741.30" width="24.70" height="24.70" fill="#228B22" stroke="#1a331a" stroke-width="0.6"/>
<line x1="153.25" x2="177.95" y1="753.60" y2="753.60" stroke="#0a1a0a" stroke-width="1.2"/>
<line x1="198.20" x2="198.20" y1="616.30" y2="620.00" stroke="#3a3a3a" stroke-width="0.7"/>
<line x1="198.20" x2="198.20" y1="653.80" y2="658.90" stroke="#3a3a3a" stroke-width="0.7"/>
<rect x="185.85" y="620.00" width="24.70" height="33.80" fill="#228B22" stroke="#1a331a" stroke-width="0.6"/>
<line x1="185.85" x2="210.55" y1="636.90" y2="636.90" stroke="#0a1a0a" stroke-width="1.2"/>
<text class="lt" x="68.05" y="715.60" text-anchor="middle">b</text>
<text class="lt" x="100.70" y="765.00" text-anchor="middle">c</text>
<text class="lt" x="134.85" y="802.30" text-anchor="middle">d</text>
<text class="lt" x="165.60" y="737.00" text-anchor="middle">b</text>
<text class="lt" x="197.40" y="614.00" text-anchor="middle">a</text>
<text class="tk" x="24.60" y="668.90" textLength="20.9" lengthAdjust="spacingAndGlyphs">1.50</text>
<text class="tk" x="25.40" y="800.00" textLength="20.1" lengthAdjust="spacingAndGlyphs">1.00</text>
<text class="xl" transform="translate(75.50,854.50) rotate(20) scale(0.9,1)" x="0" y="0">W</text>
<text class="xl" transform="translate(102.00,853.20) rotate(35.0) scale(0.9,1)" x="0" y="0">WDR61</text>
<text class="xl" transform="translate(133.80,853.20) rotate(35.0) scale(0.9,1)" x="0" y="0">WFR30</text>
<text class="xl" transform="translate(165.80,853.20) rotate(35.0) scale(0.9,1)" x="0" y="0">WDR61FR30</text>
<text class="xl" transform="translate(195.40,853.20) rotate(35.0) scale(0.9,1)" x="0" y="0">WDR122FR60</text>
<text class="yt" transform="translate(8.30,721.20) rotate(-90)" x="-66.30" y="3.6" textLength="132.6" lengthAdjust="spacingAndGlyphs">Total chlorophyl (mg g<tspan dy="-4" font-size="8.5px">-1</tspan><tspan dy="4"> )</tspan></text>
</g>
<g>
<rect x="292.30" y="605.00" width="150.50" height="233.00" fill="#EBEBEB"/>
<line x1="292.30" x2="442.80" y1="652.10" y2="652.10" stroke="#f1f1f1" stroke-width="0.8"/>
<line x1="292.30" x2="442.80" y1="705.90" y2="705.90" stroke="#f1f1f1" stroke-width="0.8"/>
<line x1="292.30" x2="442.80" y1="759.70" y2="759.70" stroke="#f1f1f1" stroke-width="0.8"/>
<line x1="292.30" x2="442.80" y1="813.50" y2="813.50" stroke="#f1f1f1" stroke-width="0.8"/>
<line x1="292.30" x2="442.80" y1="625.20" y2="625.20" stroke="#f3f3f3" stroke-width="1.2"/>
<line x1="290.50" x2="292.00" y1="625.20" y2="625.20" stroke="#707070" stroke-width="0.9"/>
<line x1="292.30" x2="442.80" y1="679.00" y2="679.00" stroke="#f3f3f3" stroke-width="1.2"/>
<line x1="290.50" x2="292.00" y1="679.00" y2="679.00" stroke="#707070" stroke-width="0.9"/>
<line x1="292.30" x2="442.80" y1="733.00" y2="733.00" stroke="#f3f3f3" stroke-width="1.2"/>
<line x1="290.50" x2="292.00" y1="733.00" y2="733.00" stroke="#707070" stroke-width="0.9"/>
<line x1="292.30" x2="442.80" y1="786.30" y2="786.30" stroke="#f3f3f3" stroke-width="1.2"/>
<line x1="290.50" x2="292.00" y1="786.30" y2="786.30" stroke="#707070" stroke-width="0.9"/>
<line x1="309.20" x2="309.20" y1="605.00" y2="838.00" stroke="#f3f3f3" stroke-width="1.2"/>
<line x1="309.20" x2="309.20" y1="838.20" y2="839.50" stroke="#d4d4d4" stroke-width="0.7"/>
<line x1="338.40" x2="338.40" y1="605.00" y2="838.00" stroke="#f3f3f3" stroke-width="1.2"/>
<line x1="338.40" x2="338.40" y1="838.20" y2="839.50" stroke="#d4d4d4" stroke-width="0.7"/>
<line x1="367.60" x2="367.60" y1="605.00" y2="838.00" stroke="#f3f3f3" stroke-width="1.2"/>
<line x1="367.60" x2="367.60" y1="838.20" y2="839.50" stroke="#d4d4d4" stroke-width="0.7"/>
<line x1="396.70" x2="396.70" y1="605.00" y2="838.00" stroke="#f3f3f3" stroke-width="1.2"/>
<line x1="396.70" x2="396.70" y1="838.20" y2="839.50" stroke="#d4d4d4" stroke-width="0.7"/>
<line x1="425.70" x2="425.70" y1="605.00" y2="838.00" stroke="#f3f3f3" stroke-width="1.2"/>
<line x1="425.70" x2="425.70" y1="838.20" y2="839.50" stroke="#d4d4d4" stroke-width="0.7"/>
<line x1="309.20" x2="309.20" y1="718.20" y2="721.60" stroke="#3a3a3a" stroke-width="0.7"/>
<line x1="309.20" x2="309.20" y1="747.60" y2="751.00" stroke="#3a3a3a" stroke-width="0.7"/>
<rect x="298.30" y="721.60" width="21.80" height="26.00" fill="#228B22" stroke="#1a331a" stroke-width="0.6"/>
<line x1="298.30" x2="320.10" y1="734.20" y2="734.20" stroke="#0a1a0a" stroke-width="1.2"/>
<line x1="338.40" x2="338.40" y1="766.00" y2="768.50" stroke="#3a3a3a" stroke-width="0.7"/>
<line x1="338.40" x2="338.40" y1="790.80" y2="794.00" stroke="#3a3a3a" stroke-width="0.7"/>
<rect x="327.50" y="768.50" width="21.80" height="22.30" fill="#228B22" stroke="#1a331a" stroke-width="0.6"/>
<line x1="327.50" x2="349.30" y1="779.70" y2="779.70" stroke="#0a1a0a" stroke-width="1.2"/>
<line x1="367.60" x2="367.60" y1="803.70" y2="805.20" stroke="#3a3a3a" stroke-width="0.7"/>
<line x1="367.60" x2="367.60" y1="824.90" y2="827.80" stroke="#3a3a3a" stroke-width="0.7"/>
<rect x="356.70" y="805.20" width="21.80" height="19.70" fill="#228B22" stroke="#1a331a" stroke-width="0.6"/>
<line x1="356.70" x2="378.50" y1="815.20" y2="815.20" stroke="#0a1a0a" stroke-width="1.2"/>
<line x1="396.70" x2="396.70" y1="738.50" y2="741.60" stroke="#3a3a3a" stroke-width="0.7"/>
<line x1="396.70" x2="396.70" y1="766.00" y2="769.40" stroke="#3a3a3a" stroke-width="0.7"/>
<rect x="385.80" y="741.60" width="21.80" height="24.40" fill="#228B22" stroke="#1a331a" stroke-width="0.6"/>
<line x1="385.80" x2="407.60" y1="753.60" y2="753.60" stroke="#0a1a0a" stroke-width="1.2"/>
<line x1="425.70" x2="425.70" y1="616.30" y2="620.60" stroke="#3a3a3a" stroke-width="0.7"/>
<line x1="425.70" x2="425.70" y1="654.40" y2="659.50" stroke="#3a3a3a" stroke-width="0.7"/>
<rect x="414.80" y="620.60" width="21.80" height="33.80" fill="#228B22" stroke="#1a331a" stroke-width="0.6"/>
<line x1="414.80" x2="436.60" y1="637.50" y2="637.50" stroke="#0a1a0a" stroke-width="1.2"/>
<text class="lt" x="309.05" y="716.50" text-anchor="middle">b</text>
<text class="lt" x="338.10" y="762.20" text-anchor="middle">c</text>
<text class="lt" x="368.10" y="798.60" text-anchor="middle">b</text>
<text class="lt" x="395.60" y="734.80" text-anchor="middle">b</text>
<text class="lt" x="424.80" y="614.00" text-anchor="middle">a</text>
<text class="tk" x="266.30" y="628.40" textLength="20.6" lengthAdjust="spacingAndGlyphs">2.00</text>
<text class="tk" x="267.60" y="789.30" textLength="19.9" lengthAdjust="spacingAndGlyphs">1.25</text>
<text class="xl" transform="translate(304.90,851.80) rotate(20) scale(0.9,1)" x="0" y="0">W</text>
<text class="xl" transform="translate(331.40,850.50) rotate(35.0) scale(0.9,1)" x="0" y="0">WDR61</text>
<text class="xl" transform="translate(363.20,850.50) rotate(35.0) scale(0.9,1)" x="0" y="0">WFR30</text>
<text class="xl" transform="translate(395.20,850.50) rotate(35.0) scale(0.9,1)" x="0" y="0">WDR61FR30</text>
<text class="xl" transform="translate(424.80,850.50) rotate(35.0) scale(0.9,1)" x="0" y="0">WDR122FR60</text>
<text class="yt" transform="translate(244.90,720.00) rotate(-90)" x="-82.65" y="3.6" textLength="165.3" lengthAdjust="spacingAndGlyphs">Nitrogen concentration (%DW)</text>
</g>
</svg>
</body></html>
